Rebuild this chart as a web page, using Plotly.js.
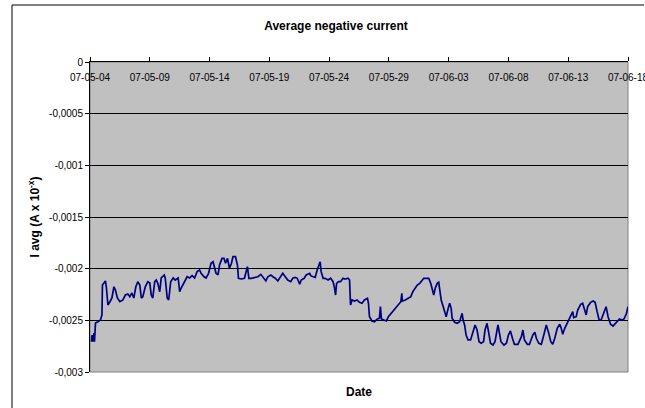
<!DOCTYPE html>
<html>
<head>
<meta charset="utf-8">
<script src="https://cdn.plot.ly/plotly-3.0.1.min.js"></script>
<style>
html,body{margin:0;padding:0;background:#fff;overflow:hidden;width:645px;height:408px;}
#chart{width:645px;height:408px;}
</style>
</head>
<body>
<div id="chart"></div>
<script>
// Start of the record and hours elapsed since it for each sample
var startDate = '2007-05-04T00:00:00Z';
var hoursSinceStart = [
 3,4,6,8,9,11,16,21,24,25,28,31,33,36,40,44,48,51,55,60,66,71,76,80,84,88,92,96,100,103,106,111,116,120,123,126,130,133,136,140,143,149,151,155,158,162,167,171,177,180,183,190,195,200,205,210,215,220,
 223,229,233,238,243,247,250,253,257,260,265,269,272,276,280,284,287,292,296,298,304,310,316,319,324,331,337,343,348,353,357,363,367,372,377,383,387,392,397,403,407,412,416,421,424,430,434,441,
 443,448,452,456,460,462,464,468,472,478,483,488,491,493,495,499,503,508,512,518,521,522,523,526,531,536,541,546,551,557,559,561,566,571,577,581,583,585,590,595,599,605,610,615,620,624,626,627,633,638,644,648,653,657,
 662,665,670,675,680,684,688,690,693,697,700,702,705,708,712,715,719,722,725,727,732,737,742,747,749,752,755,759,764,769,773,777,781,785,790,793,797,800,804,809,813,819,822,825,831,836,840,844,848,852,859,866,869,872,878,882,
 884,889,893,896,901,906,911,916,921,925,929,933,938,943,946,949,953,958,963,966,969,971,976,979,985,989,993,996,999,1005,1010,1014,1018,1022,1026,1032,1036,1040,1045,1050,1054,1058,1063,1068,1072,1077,1080
];
// Average negative current (A x 10^-x)
var iAvg = [
 -0.002707,-0.002642,-0.002707,-0.002623,-0.002707,-0.002526,-0.002513,-0.002497,-0.002448,-0.002158,-0.002139,-0.002119,-0.002187,-0.002352,-0.002320,-0.002284,-0.002175,-0.002206,-0.002284,-0.002320,-0.002303,-0.002255,-0.002245,-0.002271,-0.002235,-0.002284,-0.002175,-0.002126,-0.002158,-0.002284,-0.002271,-0.002175,-0.002126,-0.002139,-0.002255,-0.002284,-0.002126,-0.002110,-0.002139,-0.002223,-0.002090,-0.002061,-0.002090,-0.002284,-0.002303,-0.002126,-0.002090,-0.002110,-0.002090,-0.002223,-0.002187,-0.002126,-0.002078,-0.002090,-0.002068,-0.002090,-0.002029,-0.002013,
 -0.002045,-0.002078,-0.002090,-0.002045,-0.001948,-0.001933,-0.001981,-0.002045,-0.002061,-0.001965,-0.001900,-0.001900,-0.001948,-0.001900,-0.001996,-0.001948,-0.001884,-0.001884,-0.001965,-0.002093,-0.002100,-0.002093,-0.001981,-0.002093,-0.002093,-0.002084,-0.002078,-0.002055,-0.002093,-0.002119,-0.002078,-0.002061,-0.002078,-0.002093,-0.002119,-0.002078,-0.002045,-0.002078,-0.002110,-0.002126,-0.002093,-0.002084,-0.002093,-0.002151,-0.002110,-0.002093,-0.002061,-0.002045,
 -0.002068,-0.002078,-0.002084,-0.002013,-0.001948,-0.001933,-0.002029,-0.002093,-0.002093,-0.002110,-0.002093,-0.002126,-0.002190,-0.002255,-0.002142,-0.002126,-0.002126,-0.002093,-0.002100,-0.002093,-0.002110,-0.002303,-0.002352,-0.002303,-0.002313,-0.002303,-0.002326,-0.002335,-0.002303,-0.002287,-0.002335,-0.002465,-0.002506,-0.002513,-0.002487,-0.002480,-0.002368,-0.002487,-0.002497,-0.002506,-0.002465,-0.002432,-0.002400,-0.002378,-0.002345,-0.002320,-0.002238,-0.002313,-0.002303,-0.002287,-0.002271,-0.002223,-0.002190,-0.002158,
 -0.002142,-0.002119,-0.002093,-0.002093,-0.002093,-0.002142,-0.002223,-0.002255,-0.002190,-0.002142,-0.002132,-0.002206,-0.002303,-0.002352,-0.002432,-0.002465,-0.002384,-0.002335,-0.002384,-0.002480,-0.002519,-0.002529,-0.002513,-0.002432,-0.002497,-0.002545,-0.002642,-0.002690,-0.002690,-0.002610,-0.002545,-0.002594,-0.002707,-0.002722,-0.002707,-0.002594,-0.002529,-0.002610,-0.002722,-0.002739,-0.002707,-0.002545,-0.002610,-0.002707,-0.002739,-0.002722,-0.002642,-0.002603,-0.002674,-0.002732,-0.002732,-0.002658,-0.002594,-0.002690,-0.002732,-0.002732,
 -0.002707,-0.002642,-0.002616,-0.002674,-0.002722,-0.002732,-0.002642,-0.002545,-0.002626,-0.002707,-0.002732,-0.002674,-0.002577,-0.002538,-0.002577,-0.002635,-0.002577,-0.002529,-0.002480,-0.002448,-0.002416,-0.002474,-0.002465,-0.002400,-0.002345,-0.002335,-0.002400,-0.002448,-0.002368,-0.002326,-0.002313,-0.002326,-0.002416,-0.002497,-0.002497,-0.002416,-0.002368,-0.002465,-0.002538,-0.002555,-0.002538,-0.002513,-0.002487,-0.002497,-0.002487,-0.002432,-0.002368
];
var yTickValues = [0, -0.0005, -0.001, -0.0015, -0.002, -0.0025, -0.003];
var yTickLabels = ['0', '-0,0005', '-0,001', '-0,0015', '-0,002', '-0,0025', '-0,003'];
var xRange = ['2007-05-04', '2007-06-18'];

var t0 = Date.parse(startDate);
var xDates = hoursSinceStart.map(function (h) {
  return new Date(t0 + h * 3600000).toISOString().slice(0, 16).replace('T', ' ');
});

var font = 'Liberation Sans, Arial, sans-serif';

var trace = {
  type: 'scatter', mode: 'lines',
  x: xDates, y: iAvg,
  line: {color: '#000080', width: 1.7},
  hoverinfo: 'skip', showlegend: false
};

var bx = (12 - 90) / 538;      // outer chart border, left
var by = (372 - 5) / 310;      // outer chart border, top

var layout = {
  width: 645, height: 408,
  margin: {l: 90, r: 17, t: 62, b: 36, pad: 0},
  paper_bgcolor: '#ffffff',
  plot_bgcolor: '#c0c0c0',
  font: {family: font, size: 10, color: '#000'},
  title: {
    text: '<b>Average negative current</b>',
    font: {family: font, size: 12, color: '#000'},
    x: 336 / 645, xanchor: 'center', xref: 'container',
    y: 1 - 26 / 408, yanchor: 'middle', yref: 'container'
  },
  xaxis: {
    type: 'date', range: xRange, side: 'top',
    tick0: '2007-05-04', dtick: 5 * 86400000, tickformat: '%y-%m-%d',
    ticks: 'outside', ticklen: 4, tickcolor: '#000', tickwidth: 1,
    ticklabelposition: 'inside', ticklabeloverflow: 'allow', ticklabelstandoff: 11,
    tickfont: {family: font, size: 10, color: '#000'},
    showgrid: false, zeroline: false,
    showline: true, linecolor: '#000', linewidth: 1,
    fixedrange: true
  },
  yaxis: {
    range: [-0.003, 0],
    tickmode: 'array', tickvals: yTickValues, ticktext: yTickLabels,
    ticks: 'outside', ticklen: 4, tickcolor: '#000', tickwidth: 1,
    tickfont: {family: font, size: 10, color: '#000'},
    showgrid: true, gridcolor: '#000', gridwidth: 1,
    zeroline: false, showline: true, linecolor: '#000', linewidth: 1,
    title: {text: '<b>I avg (A x 10<sup>-x</sup>)</b>', font: {family: font, size: 12, color: '#000'}, standoff: 6},
    fixedrange: true
  },
  annotations: [
    {text: '<b>Date</b>', xref: 'paper', yref: 'paper', x: 0.5, y: (372 - 392) / 310,
     xanchor: 'center', yanchor: 'middle', showarrow: false,
     font: {family: font, size: 12, color: '#000'}}
  ],
  shapes: [
    {type: 'rect', xref: 'paper', yref: 'paper', x0: 0, x1: 1, y0: 0, y1: 1,
     line: {color: '#808080', width: 1}, fillcolor: 'rgba(0,0,0,0)', layer: 'below'},
    {type: 'line', xref: 'paper', yref: 'paper', x0: bx, x1: bx, y0: -0.2, y1: by,
     line: {color: '#000', width: 1}, layer: 'above'},
    {type: 'line', xref: 'paper', yref: 'paper', x0: bx, x1: 1.03, y0: by, y1: by,
     line: {color: '#000', width: 1}, layer: 'above'}
  ]
};

Plotly.newPlot('chart', [trace], layout, {staticPlot: true, displayModeBar: false});
</script>
</body>
</html>
